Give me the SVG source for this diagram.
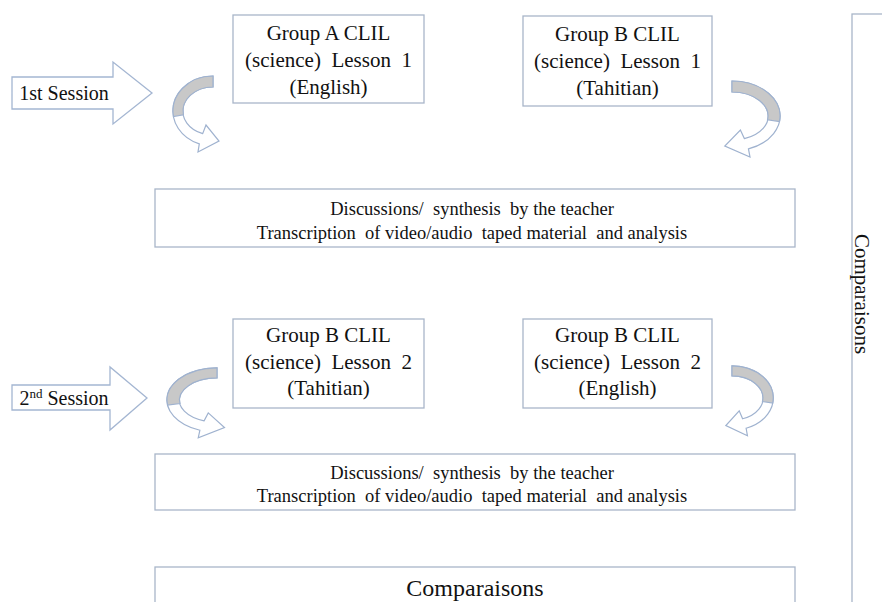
<svg xmlns="http://www.w3.org/2000/svg" width="882" height="602" viewBox="0 0 882 602">
<style>
.box{fill:#fff;stroke:#a9b6c9;stroke-width:1.3}
.t{font-family:"Liberation Serif","Times New Roman",serif;fill:#111;text-anchor:middle;white-space:pre}
.big{font-size:21px}
.mid{font-size:18.5px}
.sess{fill:#fff;stroke:#a4b6d2;stroke-width:1.3}
.cw{fill:#fff;stroke:#9fb2cf;stroke-width:1.2}
.cg{fill:#c8c8c8;stroke:#9fb2cf;stroke-width:1.2}
</style>
<defs>
<g id="curv">
<path class="cw" vector-effect="non-scaling-stroke" d="M0,-35 A40,35 0 0 0 -13.7,32.9 L-15,41 L6,30 L-7,14 L-10.3,22.6 A30,24 0 0 1 0,-24 Z"/>
<path class="cg" vector-effect="non-scaling-stroke" d="M0,-35 A40,35 0 0 0 -39.5,5.5 L-29.6,3.8 A30,24 0 0 1 0,-24 Z"/>
</g>
</defs>
<rect width="882" height="602" fill="#fff"/>

<g id="connectors">
<use href="#curv" transform="translate(213,111)"/>
<use href="#curv" transform="translate(732,116) scale(-1.2,1)"/>
<use href="#curv" transform="translate(217,400) scale(1.25,0.92)"/>
<use href="#curv" transform="translate(732,398) scale(-1.03,0.92)"/>
</g>

<g id="session1">
<polygon class="sess" points="12,77 113,77 113,62 152,93 113,124 113,109 12,109"/>
<text class="t" x="64" y="100" style="font-size:20px">1st Session</text>
</g>
<g id="session2">
<polygon class="sess" points="12,385 110,385 110,367 147,398 110,430 110,410 12,410"/>
<text class="t" x="64" y="405" style="font-size:20px">2<tspan font-size="13" dy="-7">nd</tspan><tspan dy="7"> Session</tspan></text>
</g>

<g id="groupA1">
<rect class="box" x="233" y="15" width="191" height="88"/>
<text class="t big" x="328.5" y="40">Group A CLIL</text>
<text class="t big" x="328.5" y="67">(science)  Lesson  1</text>
<text class="t big" x="328.5" y="94">(English)</text>
</g>
<g id="groupB1">
<rect class="box" x="523" y="16" width="189" height="90"/>
<text class="t big" x="617.5" y="41">Group B CLIL</text>
<text class="t big" x="617.5" y="68">(science)  Lesson  1</text>
<text class="t big" x="617.5" y="95">(Tahitian)</text>
</g>

<g id="discussion1">
<rect class="box" x="155" y="189" width="640" height="58"/>
<text class="t mid" x="472" y="215">Discussions/  synthesis  by the teacher</text>
<text class="t mid" x="472" y="239">Transcription  of video/audio  taped material  and analysis</text>
</g>

<g id="groupB2a">
<rect class="box" x="233" y="319" width="191" height="89"/>
<text class="t big" x="328.5" y="342">Group B CLIL</text>
<text class="t big" x="328.5" y="369">(science)  Lesson  2</text>
<text class="t big" x="328.5" y="395">(Tahitian)</text>
</g>
<g id="groupB2b">
<rect class="box" x="523" y="319" width="189" height="89"/>
<text class="t big" x="617.5" y="342">Group B CLIL</text>
<text class="t big" x="617.5" y="369">(science)  Lesson  2</text>
<text class="t big" x="617.5" y="395">(English)</text>
</g>

<g id="discussion2">
<rect class="box" x="155" y="454" width="640" height="56"/>
<text class="t mid" x="472" y="479">Discussions/  synthesis  by the teacher</text>
<text class="t mid" x="472" y="502">Transcription  of video/audio  taped material  and analysis</text>
</g>

<g id="comparaisonsBottom">
<rect class="box" x="155" y="567" width="640" height="45"/>
<text class="t" x="475" y="596" style="font-size:24px">Comparaisons</text>
</g>

<g id="comparaisonsRight">
<rect class="box" x="852" y="14" width="45" height="600"/>
<text class="t" transform="translate(855,294) rotate(90)" style="font-size:21px">Comparaisons</text>
</g>
</svg>
